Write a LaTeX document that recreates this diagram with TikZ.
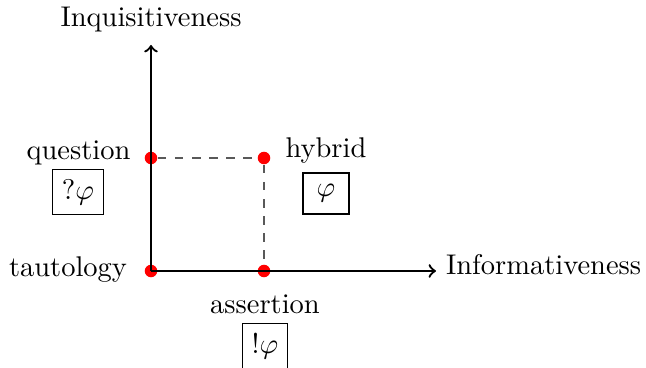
\documentclass[tikz,border=0pt]{standalone}
\begin{document}
\begin{tikzpicture}[x=0.351pt,y=-0.351pt,
  axis/.style={thick,->},
  guide/.style={dashed,gray!70!black,thin},
  dot/.style={circle,fill=red,inner sep=0pt,minimum size=4.4pt},
  lab/.style={anchor=base},
  formbox/.style={draw,thin,inner sep=3.33pt}]
\useasboundingbox (0,0) rectangle (646,368);
\coordinate (ytop) at (151,45);
\coordinate (xend) at (436,271);
\node[dot] (taut) at (151,271) {};
\node[dot] (ques) at (151,158) {};
\node[dot] (hyb) at (264,158) {};
\node[dot] (ass) at (264,271) {};
\draw[guide] (ques) -- (hyb) -- (ass);
\draw[axis] (taut.center) -- (ytop);
\draw[axis] (taut.center) -- (xend);
\node[lab] (inq) at (151,27) {Inquisitiveness};
\node[anchor=base west] (inf) at (xend |- 0,275) {Informativeness};
\node[lab] (qlab) at (78.5,160) {question};
\node[lab] (tlab) at (68,277) {tautology};
\node[lab] (hlab) at (326,158) {hybrid};
\node[lab] (alab) at (265,314) {assertion};
\node[formbox] (qbox) at (78,192) {$?\varphi$};
\node[formbox,minimum width=16.1pt,minimum height=14.4pt] (hbox) at (326,193.5) {$\varphi$};
\node[formbox] (abox) at (265,346) {$!\varphi$};
\end{tikzpicture}
\end{document}
